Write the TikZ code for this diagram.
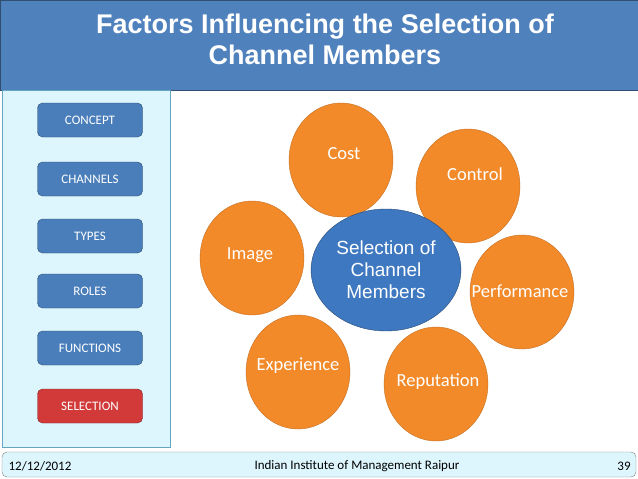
\documentclass[tikz,border=0pt]{standalone}
\usepackage{fontspec}
\setmainfont{Carlito}
\newfontfamily\arialfont{Liberation Sans}
\usetikzlibrary{shapes.geometric}
\definecolor{titleblue}{HTML}{4F81BD}
\definecolor{panelcyan}{HTML}{DDF6FD}
\definecolor{btnblue}{HTML}{4A7EBB}
\definecolor{btnred}{HTML}{D23A3A}
\definecolor{ballorange}{HTML}{F28A2A}
\definecolor{ballblue}{HTML}{3E78C0}
\begin{document}
\begin{tikzpicture}[x=1pt, y=-1pt,
  menubtn/.style={draw=btnblue!60!black, rounded corners=5pt, fill=btnblue, text=white,
    minimum width=105pt, minimum height=34pt, font=\fontsize{13}{15}\selectfont},
  factor/.style={ellipse, fill=ballorange, draw=ballorange!80!black, minimum width=104pt,
    minimum height=114pt},
  factortext/.style={text=white, font=\fontsize{18.5}{21}\selectfont},
]

\useasboundingbox (0,0) rectangle (638,479);

% Title bar
\fill[titleblue] (0,0) rectangle (638,90);
\draw[titleblue!60!black] (0,0) rectangle (638,90);
\node[text=white, align=center, font=\arialfont\bfseries\fontsize{27}{31}\selectfont] (title) at (325,39)
  {Factors Influencing the Selection of\\Channel Members};

% Left menu panel
\draw[fill=panelcyan, draw=cyan!50!gray] (2,90) rectangle (170,447);
\node[menubtn] (concept) at (90,120) {CONCEPT};
\node[menubtn] (channels) at (90,179) {CHANNELS};
\node[menubtn] (types) at (90,236) {TYPES};
\node[menubtn] (roles) at (90,291) {ROLES};
\node[menubtn] (functions) at (90,348) {FUNCTIONS};
\node[menubtn, fill=btnred, draw=btnred!60!black] (selection) at (90,406) {SELECTION};

% Factors
\node[factor] (cost) at (341,160) {};
\node[factortext] at (344,154) {Cost};
\node[factor] (control) at (468,186) {};
\node[factortext] at (475,174) {Control};
\node[factor] (image) at (252,258) {};
\node[factortext] at (250,255) {Image};
\node[factor] (performance) at (522,292) {};
\node[factortext] at (520,291) {Performance};
\node[factor] (experience) at (298,372) {};
\node[factortext] at (298,366) {Experience};
\node[factor] (reputation) at (436,384) {};
\node[factortext] at (438,382) {Reputation};

% Centre
\node[ellipse, fill=ballblue, draw=ballblue!60!black, minimum width=136pt, minimum height=122pt,
  text=white, align=center, font=\arialfont\fontsize{19}{22}\selectfont] (centre) at (386,270)
  {Selection of\\Channel\\Members};

% Footer
\draw[fill=panelcyan, draw=gray, rounded corners=5pt] (2,452) rectangle (636,477);
\node[font=\fontsize{13}{15}\selectfont] (date) at (40,466) {12/12/2012};
\node[font=\fontsize{13}{15}\selectfont] (inst) at (357,466) {Indian Institute of Management Raipur};
\node[font=\fontsize{13}{15}\selectfont] (page) at (624,466) {39};
\end{tikzpicture}
\end{document}
